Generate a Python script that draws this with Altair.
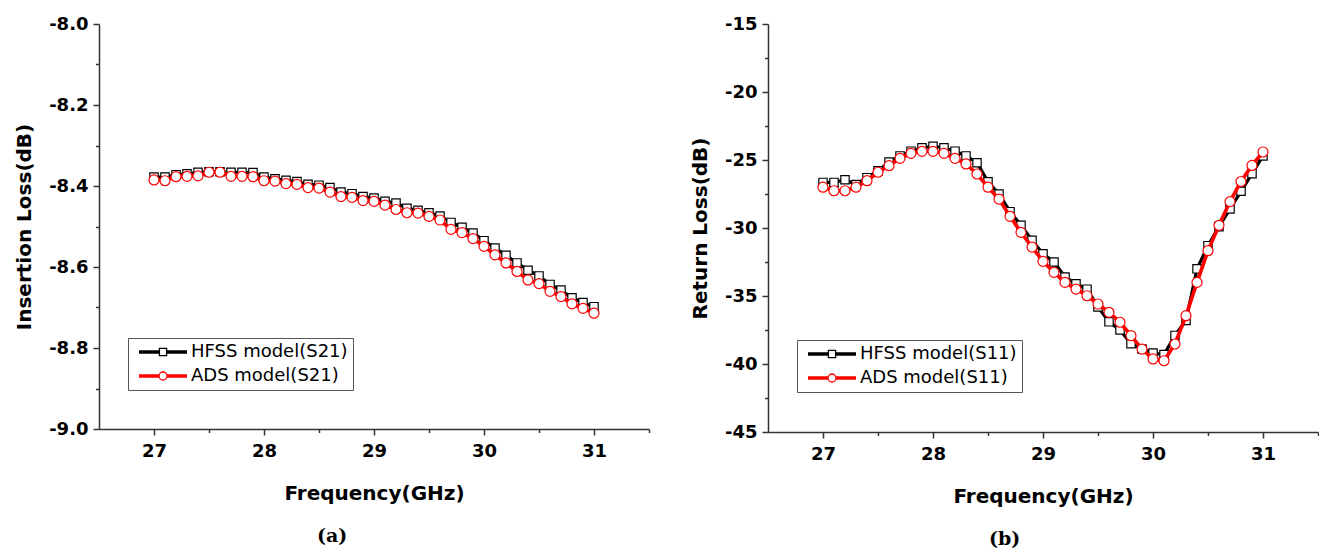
import altair as alt
import pandas as pd

# ---------------- data ----------------
freq = [27.0, 27.1, 27.2, 27.3, 27.4, 27.5, 27.6, 27.7, 27.8, 27.9,
        28.0, 28.1, 28.2, 28.3, 28.4, 28.5, 28.6, 28.7, 28.8, 28.9,
        29.0, 29.1, 29.2, 29.3, 29.4, 29.5, 29.6, 29.7, 29.8, 29.9,
        30.0, 30.1, 30.2, 30.3, 30.4, 30.5, 30.6, 30.7, 30.8, 30.9, 31.0]

s21_hfss = [-8.378, -8.378, -8.372, -8.370, -8.366, -8.365, -8.365, -8.366, -8.366, -8.367,
            -8.378, -8.382, -8.386, -8.389, -8.396, -8.398, -8.404, -8.415, -8.419, -8.426,
            -8.430, -8.438, -8.442, -8.455, -8.460, -8.466, -8.474, -8.490, -8.502, -8.516,
            -8.535, -8.553, -8.571, -8.590, -8.608, -8.622, -8.643, -8.657, -8.676, -8.688, -8.698]
s21_ads = [-8.385, -8.387, -8.377, -8.376, -8.375, -8.366, -8.366, -8.376, -8.376, -8.377,
           -8.387, -8.388, -8.394, -8.396, -8.404, -8.405, -8.415, -8.426, -8.428, -8.436,
           -8.438, -8.447, -8.458, -8.466, -8.467, -8.475, -8.484, -8.507, -8.515, -8.530,
           -8.549, -8.570, -8.590, -8.611, -8.632, -8.641, -8.660, -8.673, -8.691, -8.702, -8.714]

s11_hfss = [-26.65, -26.65, -26.45, -26.8, -26.3, -25.8, -25.15, -24.7, -24.35, -24.1,
            -24.0, -24.1, -24.35, -24.7, -25.2, -26.6, -27.5, -28.8, -29.8, -30.9,
            -31.9, -32.5, -33.6, -34.1, -34.5, -35.8, -36.9, -37.5, -38.5, -38.9,
            -39.2, -39.3, -37.9, -36.8, -33.0, -31.3, -29.9, -28.6, -27.3, -26.0, -24.7]
s11_ads = [-27.0, -27.26, -27.26, -27.0, -26.52, -25.9, -25.42, -24.88, -24.51, -24.36,
           -24.36, -24.51, -24.88, -25.29, -26.03, -27.0, -27.87, -29.14, -30.32, -31.4,
           -32.45, -33.26, -34.0, -34.49, -34.98, -35.59, -36.2, -36.93, -37.92, -38.9,
           -39.63, -39.76, -38.53, -36.45, -34.0, -31.67, -29.8, -28.06, -26.58, -25.4, -24.41]

names_a = ["HFSS model(S21)", "ADS model(S21)"]
names_b = ["HFSS model(S11)", "ADS model(S11)"]

x_ticks = [27.0, 27.5, 28.0, 28.5, 29.0, 29.5, 30.0, 30.5, 31.0, 31.5]
y_ticks_a = [-9.0, -8.9, -8.8, -8.7, -8.6, -8.5, -8.4, -8.3, -8.2, -8.1, -8.0]
y_ticks_b = [-45, -42.5, -40, -37.5, -35, -32.5, -30, -27.5, -25, -22.5, -20, -17.5, -15]

# legend symbols (custom SVG paths, unit = sqrt(symbolSize)/2 px)
LINE_L = "M-3,-0.15H-0.5M-3,0H-0.5M-3,0.15H-0.5"
LINE_R = "M0.5,-0.15H3M0.5,0H3M0.5,0.15H3"
SQ_PATH = LINE_L + LINE_R + "M-0.45,-0.45H0.45V0.45H-0.45Z"
CI_PATH = LINE_L + LINE_R + "M-0.5,0A0.5,0.5,0,1,1,0.5,0A0.5,0.5,0,1,1,-0.5,0Z"

FONT = "DejaVu Sans"
X_MAJOR = "datum.value % 1 === 0"
MINOR_DASH = [3.5, 20]


def minor_dash(major_test):
    return {"condition": {"test": "!(" + major_test + ")", "value": MINOR_DASH}, "value": []}


def panel(hfss, ads, names, ydom, yticks, y_major, y_fmt, ytitle, caption, height, leg_y):
    df = pd.DataFrame({
        "freq": freq + freq,
        "val": hfss + ads,
        "series": [names[0]] * len(freq) + [names[1]] * len(freq),
    })
    base = alt.Chart(df)
    x = alt.X("freq:Q",
              scale=alt.Scale(domain=[26.5, 31.5], nice=False, zero=False),
              axis=alt.Axis(values=x_ticks,
                            labelExpr=X_MAJOR + " ? format(datum.value, 'd') : ''",
                            title="Frequency(GHz)", labelPadding=7, titlePadding=23,
                            tickDash=minor_dash(X_MAJOR)))
    y = alt.Y("val:Q",
              scale=alt.Scale(domain=ydom, nice=False, zero=False),
              axis=alt.Axis(values=yticks,
                            labelExpr=y_major + " ? (datum.value < 0 ? '-' : '') + format(abs(datum.value), '" + y_fmt + "') : ''",
                            title=ytitle, labelPadding=5, titlePadding=14,
                            tickDash=minor_dash(y_major)))
    leg = alt.Legend(title=None, orient="none", legendX=29, legendY=leg_y,
                     direction="vertical", strokeColor="#555", fillColor="white",
                     padding=5, symbolSize=256, symbolStrokeWidth=1.3,
                     symbolOffset=21, labelOffset=19, rowPadding=6,
                     labelFont=FONT, labelFontSize=18, labelColor="black",
                     labelLimit=0, clipHeight=18, values=names)
    h_line = base.transform_filter(alt.datum.series == names[0]).mark_line(
        color="black", strokeWidth=3.2).encode(x=x, y=y)
    h_pts = base.transform_filter(alt.datum.series == names[0]).mark_point(
        shape="square", filled=True, fill="white", stroke="black", strokeWidth=1.2,
        size=70, opacity=1).encode(x=x, y=y)
    a_line = base.transform_filter(alt.datum.series == names[1]).mark_line(
        color="red", strokeWidth=3.6).encode(x=x, y=y)
    a_pts = base.transform_filter(alt.datum.series == names[1]).mark_point(
        shape="circle", filled=True, fill="white", stroke="red", strokeWidth=1.2,
        size=100, opacity=1).encode(x=x, y=y)
    carrier = base.transform_filter("datum.freq < 0").mark_point(
        filled=False, opacity=1).encode(
        x=x, y=y,
        color=alt.Color("series:N", scale=alt.Scale(domain=names, range=["black", "red"]), legend=leg),
        shape=alt.Shape("series:N", scale=alt.Scale(domain=names, range=[SQ_PATH, CI_PATH]), legend=leg),
    )
    return alt.layer(carrier, h_line, h_pts, a_line, a_pts).properties(
        width=550, height=height,
        title=alt.TitleParams(caption, orient="bottom", anchor="middle", frame="bounds",
                              font="DejaVu Serif", fontSize=19, fontWeight="bold",
                              color="black", offset=24),
    )


left = panel(s21_hfss, s21_ads, names_a, [-9.0, -8.0], y_ticks_a,
             "abs(round(datum.value*10)) % 2 === 0", ".1f",
             "Insertion Loss(dB)", "(a)", 405, 314)
right = panel(s11_hfss, s11_ads, names_b, [-45, -15], y_ticks_b,
              "datum.value % 5 === 0", "d",
              "Return Loss(dB)", "(b)", 408, 316)

chart = alt.hconcat(left, right, spacing=40).resolve_scale(
    x="independent", y="independent", color="independent", shape="independent"
).resolve_legend(color="independent", shape="independent").properties(
    padding={"left": 14, "top": 15, "right": 0, "bottom": 0},
    background="white",
).configure_view(stroke=None).configure_axis(
    grid=False, labelFont=FONT, labelFontWeight="bold", labelFontSize=18, labelColor="black",
    titleFont=FONT, titleFontWeight="bold", titleFontSize=20, titleColor="black",
    domainColor="#333", domainWidth=1.5, tickColor="#333", tickWidth=1.5, tickSize=6,
    labelOverlap=False, labelFlush=False,
)

chart.save("out.html", embed_options={"renderer": "svg", "actions": False})
